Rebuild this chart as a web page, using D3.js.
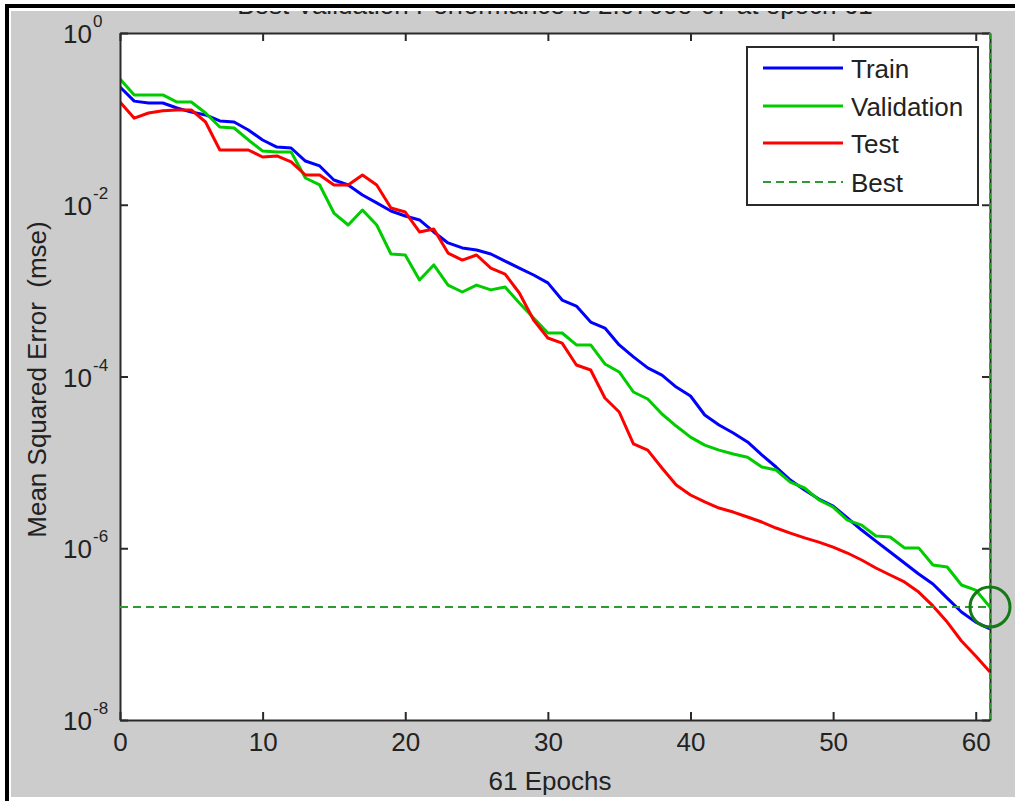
<!DOCTYPE html>
<html>
<head>
<meta charset="utf-8">
<script src="https://cdn.jsdelivr.net/npm/d3@7"></script>
<style>
body { margin: 0; background: #fff; }
svg { display: block; font-family: "Liberation Sans", Arial, sans-serif; }
</style>
</head>
<body>
<script>
"use strict";
// epochs 0..61, mse
const epochs = d3.range(0, 62);
const trainMse = [2.35e-1, 1.61e-1, 1.53e-1, 1.53e-1, 1.34e-1, 1.20e-1, 1.11e-1, 9.45e-2, 9.20e-2, 7.42e-2,
  5.68e-2, 4.70e-2, 4.58e-2, 3.23e-2, 2.83e-2, 1.94e-2, 1.70e-2, 1.30e-2, 1.05e-2, 8.46e-3,
  7.40e-3, 6.65e-3, 4.82e-3, 3.59e-3, 3.14e-3, 2.97e-3, 2.67e-3, 2.21e-3, 1.83e-3, 1.52e-3,
  1.23e-3, 7.77e-4, 6.62e-4, 4.31e-4, 3.67e-4, 2.33e-4, 1.69e-4, 1.26e-4, 1.04e-4, 7.54e-5,
  5.93e-5, 3.56e-5, 2.72e-5, 2.20e-5, 1.73e-5, 1.22e-5, 8.83e-6, 6.23e-6, 4.77e-6, 3.74e-6,
  3.10e-6, 2.25e-6, 1.63e-6, 1.21e-6, 9.04e-7, 6.73e-7, 5.01e-7, 3.83e-7, 2.63e-7, 1.81e-7,
  1.38e-7, 1.15e-7];
const validationMse = [2.91e-1, 1.90e-1, 1.90e-1, 1.90e-1, 1.57e-1, 1.57e-1, 1.17e-1, 8.04e-2, 7.83e-2, 5.68e-2,
  4.23e-2, 4.11e-2, 4.11e-2, 2.05e-2, 1.70e-2, 8.01e-3, 5.81e-3, 8.69e-3, 5.81e-3, 2.67e-3,
  2.60e-3, 1.33e-3, 1.99e-3, 1.16e-3, 9.64e-4, 1.16e-3, 1.02e-3, 1.10e-3, 7.17e-4, 4.80e-4,
  3.21e-4, 3.21e-4, 2.33e-4, 2.33e-4, 1.40e-4, 1.13e-4, 6.60e-5, 5.47e-5, 3.66e-5, 2.65e-5,
  1.97e-5, 1.59e-5, 1.39e-5, 1.25e-5, 1.15e-5, 8.83e-6, 8.15e-6, 5.90e-6, 5.03e-6, 3.65e-6,
  3.02e-6, 2.13e-6, 1.86e-6, 1.39e-6, 1.35e-6, 1.01e-6, 1.01e-6, 6.38e-7, 6.05e-7, 3.73e-7,
  3.26e-7, 2.07e-7];
const testMse = [1.57e-1, 1.02e-1, 1.17e-1, 1.24e-1, 1.27e-1, 1.27e-1, 9.20e-2, 4.34e-2, 4.34e-2, 4.34e-2,
  3.60e-2, 3.70e-2, 3.15e-2, 2.22e-2, 2.22e-2, 1.70e-2, 1.70e-2, 2.22e-2, 1.70e-2, 9.17e-3,
  8.23e-3, 4.82e-3, 5.22e-3, 2.74e-3, 2.27e-3, 2.60e-3, 1.83e-3, 1.56e-3, 9.38e-4, 4.55e-4,
  2.81e-4, 2.45e-4, 1.36e-4, 1.19e-4, 5.62e-5, 3.86e-5, 1.64e-5, 1.39e-5, 8.60e-6, 5.45e-6,
  4.17e-6, 3.46e-6, 2.94e-6, 2.64e-6, 2.31e-6, 2.02e-6, 1.72e-6, 1.50e-6, 1.32e-6, 1.18e-6,
  1.03e-6, 8.80e-7, 7.30e-7, 5.89e-7, 4.88e-7, 4.05e-7, 3.09e-7, 2.13e-7, 1.38e-7, 8.32e-8,
  5.56e-8, 3.62e-8];
const bestEpoch = 61;
const bestMse = 2.07e-7;
const xTicks = [0, 10, 20, 30, 40, 50, 60];
const yTicks = [1, 1e-2, 1e-4, 1e-6, 1e-8];
const yExponents = ["0", "-2", "-4", "-6", "-8"];
const legendNames = ["Train", "Validation", "Test", "Best"];
const lineColors = ["#0000ff", "#00cc00", "#ff0000"];
const bestColor = "#2f9a2f";

const W = 1015, H = 801;
const plot = {left: 120, right: 990, top: 33, bottom: 720};

const svg = d3.select("body").append("svg")
  .attr("width", W)
  .attr("height", H);

svg.append("rect").attr("width", W).attr("height", H).attr("fill", "#fff");
svg.append("rect")
  .attr("x", 11).attr("y", 11)
  .attr("width", W - 11).attr("height", 786)
  .attr("fill", "#cccccc");

// title, mostly hidden under the frame like in the screenshot
svg.append("text")
  .attr("x", (plot.left + plot.right) / 2)
  .attr("y", 14)
  .attr("text-anchor", "middle")
  .attr("font-size", 26)
  .attr("fill", "#222")
  .text("Best Validation Performance is " + bestMse.toExponential(4).replace("e-", "e-0") + " at epoch " + bestEpoch);
svg.append("rect").attr("x", 0).attr("y", 0).attr("width", W).attr("height", 11).attr("fill", "#fff");
svg.append("rect").attr("x", 5).attr("y", 4).attr("width", W - 5).attr("height", 4).attr("fill", "#000");
svg.append("rect").attr("x", 5).attr("y", 4).attr("width", 4).attr("height", H - 4).attr("fill", "#000");

const x = d3.scaleLinear().domain([0, 61]).range([plot.left, plot.right]);
const y = d3.scaleLog().domain([1e-8, 1]).range([plot.bottom, plot.top]);

svg.append("rect")
  .attr("x", plot.left).attr("y", plot.top)
  .attr("width", plot.right - plot.left).attr("height", plot.bottom - plot.top)
  .attr("fill", "#fff");

svg.append("clipPath").attr("id", "clip")
  .append("rect")
  .attr("x", plot.left).attr("y", plot.top)
  .attr("width", plot.right - plot.left).attr("height", plot.bottom - plot.top);

const line = d3.line()
  .x((d, i) => x(epochs[i]))
  .y(d => y(d));

const series = [trainMse, validationMse, testMse];
const lines = svg.append("g").attr("clip-path", "url(#clip)");
series.forEach((s, i) => {
  lines.append("path")
    .datum(s)
    .attr("d", line)
    .attr("fill", "none")
    .attr("stroke", lineColors[i])
    .attr("stroke-width", 3)
    .attr("stroke-linejoin", "round");
});

// axes: ticks point inward on all four sides
const axisStyle = g => {
  g.select(".domain").attr("stroke", "#2a2a2a").attr("stroke-width", 2);
  g.selectAll(".tick line").attr("stroke", "#2a2a2a").attr("stroke-width", 2);
  g.selectAll("text").attr("fill", "#222").attr("font-size", 26).attr("font-family", null);
};

svg.append("g")
  .attr("transform", "translate(0," + plot.bottom + ")")
  .call(d3.axisBottom(x).tickValues(xTicks).tickSize(-8).tickSizeOuter(0).tickPadding(13))
  .call(axisStyle);
svg.append("g")
  .attr("transform", "translate(0," + plot.top + ")")
  .call(d3.axisTop(x).tickValues(xTicks).tickSize(-8).tickSizeOuter(0).tickFormat(""))
  .call(axisStyle);
svg.append("g")
  .attr("transform", "translate(" + plot.left + ",0)")
  .call(d3.axisLeft(y).tickValues(yTicks).tickSize(-8).tickSizeOuter(0).tickFormat(""))
  .call(axisStyle);
svg.append("g")
  .attr("transform", "translate(" + plot.right + ",0)")
  .call(d3.axisRight(y).tickValues(yTicks).tickSize(-8).tickSizeOuter(0).tickFormat(""))
  .call(axisStyle);

// y tick labels as 10 with a superscript exponent
const yLab = svg.append("g").attr("fill", "#222");
yTicks.forEach((t, i) => {
  yLab.append("text")
    .attr("x", 92)
    .attr("y", y(t) + 10)
    .attr("text-anchor", "end")
    .attr("font-size", 26)
    .text("10");
  yLab.append("text")
    .attr("x", 93)
    .attr("y", y(t) - 6)
    .attr("font-size", 17)
    .text(yExponents[i]);
});

svg.append("text")
  .attr("transform", "translate(46," + ((plot.top + plot.bottom) / 2 + 3) + ") rotate(-90)")
  .attr("text-anchor", "middle")
  .attr("font-size", 26)
  .attr("fill", "#222")
  .attr("xml:space", "preserve")
  .text("Mean Squared Error  (mse)");

svg.append("text")
  .attr("x", (plot.left + plot.right) / 2 - 5)
  .attr("y", 790)
  .attr("text-anchor", "middle")
  .attr("font-size", 26)
  .attr("fill", "#222")
  .text("61 Epochs");

// best markers
svg.append("line")
  .attr("x1", x(0)).attr("x2", x(bestEpoch))
  .attr("y1", y(bestMse)).attr("y2", y(bestMse))
  .attr("stroke", bestColor).attr("stroke-width", 2)
  .attr("stroke-dasharray", "8,5");
svg.append("line")
  .attr("x1", x(bestEpoch)).attr("x2", x(bestEpoch))
  .attr("y1", y(1)).attr("y2", y(1e-8))
  .attr("stroke", bestColor).attr("stroke-width", 2)
  .attr("stroke-dasharray", "6,4");
svg.append("circle")
  .attr("cx", x(bestEpoch)).attr("cy", y(bestMse))
  .attr("r", 20)
  .attr("fill", "none")
  .attr("stroke", "#157a15")
  .attr("stroke-width", 3);

// legend
const legend = svg.append("g");
legend.append("rect")
  .attr("x", 747).attr("y", 47)
  .attr("width", 231).attr("height", 158)
  .attr("fill", "#fff")
  .attr("stroke", "#2a2a2a")
  .attr("stroke-width", 2);
const rowY = [68, 106, 143, 182];
legendNames.forEach((name, i) => {
  const l = legend.append("line")
    .attr("x1", 763).attr("x2", 843)
    .attr("y1", rowY[i]).attr("y2", rowY[i])
    .attr("stroke", i < 3 ? lineColors[i] : bestColor)
    .attr("stroke-width", i < 3 ? 3 : 2);
  if (i == 3) l.attr("stroke-dasharray", "8,5");
  legend.append("text")
    .attr("x", 851)
    .attr("y", rowY[i] + 10)
    .attr("font-size", 26)
    .attr("fill", "#222")
    .text(name);
});
</script>
</body>
</html>
